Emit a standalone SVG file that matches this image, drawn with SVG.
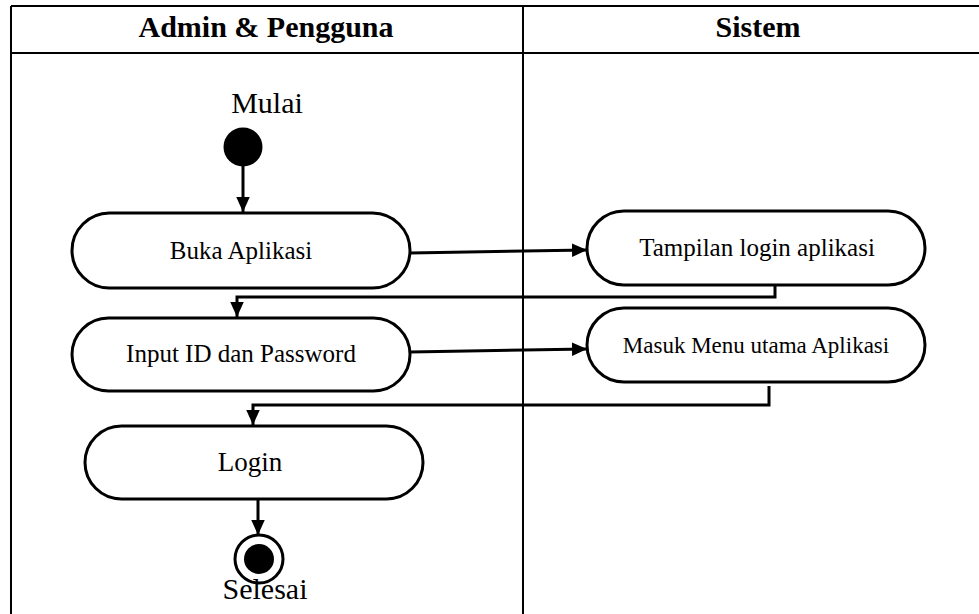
<svg xmlns="http://www.w3.org/2000/svg" width="979" height="614" viewBox="0 0 979 614">
  <style>
    .lane { stroke: #000; stroke-width: 2; fill: none; }
    .head { font-family: "Liberation Serif", "Times New Roman", serif; font-weight: bold; font-size: 30px; text-anchor: middle; fill: #000; }
    .act { fill: #fff; stroke: #000; stroke-width: 3; }
    .lbl { font-family: "Liberation Serif", "Times New Roman", serif; font-size: 25px; text-anchor: middle; fill: #000; }
    .big { font-family: "Liberation Serif", "Times New Roman", serif; font-size: 30px; text-anchor: middle; fill: #000; }
    .flow { stroke: #000; stroke-width: 3; fill: none; marker-end: url(#arrow); }
  </style>
  <defs>
    <marker id="arrow" viewBox="0 0 10 10" refX="10" refY="5" markerWidth="5" markerHeight="4.5" markerUnits="strokeWidth" orient="auto" preserveAspectRatio="none">
      <path d="M0,0 L10,5 L0,10 Z" fill="#000"/>
    </marker>
  </defs>

  <!-- swimlane frame -->
  <g id="lanes">
    <line class="lane" x1="11" y1="6" x2="979" y2="6"/>
    <line class="lane" x1="11" y1="53" x2="979" y2="53"/>
    <line class="lane" x1="11" y1="6" x2="11" y2="614"/>
    <line class="lane" x1="523" y1="6" x2="523" y2="614"/>
    <text class="head" x="266" y="37">Admin &amp; Pengguna</text>
    <text class="head" x="758" y="37">Sistem</text>
  </g>

  <!-- connectors -->
  <g id="connectors">
    <line class="flow" x1="243" y1="160" x2="243" y2="212"/>
    <line class="flow" x1="410" y1="253" x2="587" y2="250"/>
    <polyline class="flow" points="775,285 775,297 237,297 237,317"/>
    <line class="flow" x1="410" y1="352" x2="587" y2="349"/>
    <polyline class="flow" points="769,386 769,405 253,405 253,425"/>
    <line class="flow" x1="258" y1="496" x2="258" y2="535"/>
  </g>

  <g id="start">
    <text class="big" x="267" y="113">Mulai</text>
    <circle cx="243" cy="147" r="19.5" fill="#000"/>
  </g>

  <g id="buka-aplikasi">
    <rect class="act" x="72" y="213" width="338" height="75" rx="37.5"/>
    <text class="lbl" x="241" y="259">Buka Aplikasi</text>
  </g>

  <g id="tampilan-login">
    <rect class="act" x="587" y="211" width="338" height="74" rx="37"/>
    <text class="lbl" x="757" y="256">Tampilan login aplikasi</text>
  </g>

  <g id="input-id">
    <rect class="act" x="72" y="318" width="338" height="73" rx="36.5"/>
    <text class="lbl" x="241" y="362">Input ID dan Password</text>
  </g>

  <g id="masuk-menu">
    <rect class="act" x="587" y="308" width="338" height="74" rx="37"/>
    <text class="lbl" x="756" y="353" style="font-size:23px">Masuk Menu utama Aplikasi</text>
  </g>

  <g id="login">
    <rect class="act" x="85" y="426" width="338" height="73" rx="36.5"/>
    <text class="lbl" x="250" y="471" style="font-size:27px">Login</text>
  </g>

  <g id="end">
    <circle cx="259" cy="559" r="24" fill="#fff" stroke="#000" stroke-width="3"/>
    <circle cx="259" cy="559" r="15" fill="#000"/>
    <text class="big" x="265" y="599">Selesai</text>
  </g>
</svg>
